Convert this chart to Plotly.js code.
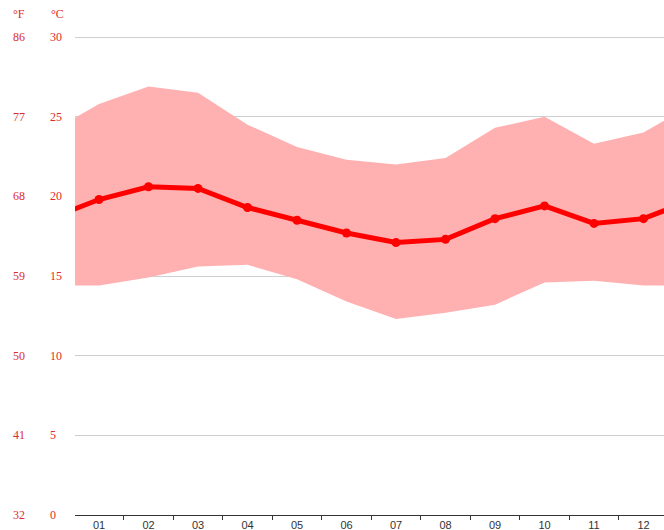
<!DOCTYPE html>
<html>
<head>
<meta charset="utf-8">
<script src="https://cdn.plot.ly/plotly-3.0.1.min.js"></script>
<style>html,body{margin:0;padding:0;background:#fff;}#chart{width:664px;height:530px;}</style>
</head>
<body>
<div id="chart"></div>
<script>
// Data (°C), months 01..12
const months = ["01","02","03","04","05","06","07","08","09","10","11","12"];
const meanTemp = [19.8, 20.6, 20.5, 19.3, 18.5, 17.7, 17.1, 17.3, 18.6, 19.4, 18.3, 18.6];
const maxTemp  = [25.8, 26.9, 26.5, 24.5, 23.1, 22.3, 22.0, 22.4, 24.3, 25.0, 23.3, 24.0];
const minTemp  = [14.4, 14.9, 15.6, 15.7, 14.8, 13.4, 12.3, 12.7, 13.2, 14.6, 14.7, 14.4];
const celsiusTicks = [0, 5, 10, 15, 20, 25, 30];
const fahrenheitTicks = [32, 41, 50, 59, 68, 77, 86];

// wrap: previous December before January, next January after December
const idx = months.map((m, i) => i + 1);
const xs = [0].concat(idx, [13]);
const wrap = a => [a[a.length - 1]].concat(a, [a[0]]);

const red = "#ff0000";
const labelRed = "#e02b2b";

const traces = [
  {x: xs, y: wrap(minTemp), type: "scatter", mode: "lines", line: {width: 0, color: "rgba(0,0,0,0)"}, hoverinfo: "skip", showlegend: false},
  {x: xs, y: wrap(maxTemp), type: "scatter", mode: "lines", fill: "tonexty", fillcolor: "rgb(255,176,176)", line: {width: 0, color: "rgba(0,0,0,0)"}, showlegend: false},
  {x: xs, y: wrap(meanTemp), type: "scatter", mode: "lines+markers", line: {width: 5, color: red}, marker: {size: 9, color: red}, showlegend: false},
  {x: [0.5], y: [0], xaxis: "x2", type: "scatter", mode: "markers", marker: {opacity: 0}, showlegend: false, hoverinfo: "skip"}
];

const xRange = [0.515, 12.414];
const yTop = 30.19;
const labelFont = {family: "Liberation Serif, DejaVu Serif, serif", size: 12, color: labelRed};
const annotations = [];
celsiusTicks.forEach((c, i) => {
  annotations.push({xref: "paper", yref: "y", x: (48 - 75) / 589, y: c, text: String(c), showarrow: false, xanchor: "left", yanchor: "middle", font: labelFont});
  annotations.push({xref: "paper", yref: "y", x: (11 - 75) / 589, y: c, text: String(fahrenheitTicks[i]), showarrow: false, xanchor: "left", yanchor: "middle", font: labelFont});
});
const headerY = (515 - 14) / 481;
annotations.push({xref: "paper", yref: "paper", x: (11 - 75) / 589, y: headerY, text: "°F", showarrow: false, xanchor: "left", yanchor: "middle", font: labelFont});
annotations.push({xref: "paper", yref: "paper", x: (49 - 75) / 589, y: headerY, text: "°C", showarrow: false, xanchor: "left", yanchor: "middle", font: labelFont});

const layout = {
  width: 664, height: 530,
  margin: {l: 75, r: 0, t: 34, b: 15, pad: 0},
  paper_bgcolor: "#fff", plot_bgcolor: "#fff",
  showlegend: false,
  xaxis: {range: xRange, tickvals: idx, ticktext: months, ticks: "", showgrid: false, zeroline: false,
          showline: true, linecolor: "#333", linewidth: 1,
          tickfont: {family: "Liberation Sans, Arial, sans-serif", size: 11, color: "#333"}, fixedrange: true},
  xaxis2: {range: xRange, overlaying: "x", matches: "x", tickvals: idx.map(v => v - 0.5).concat([12.5]), ticks: "outside", ticklen: 4, tickcolor: "#333", tickwidth: 1,
           showticklabels: false, showgrid: false, zeroline: false, showline: false},
  yaxis: {range: [0, yTop], tickvals: celsiusTicks.slice(1), showticklabels: false, ticks: "",
          showgrid: true, gridcolor: "#cfcfcf", gridwidth: 1, zeroline: false, showline: false, fixedrange: true},
  annotations: annotations
};

Plotly.newPlot("chart", traces, layout, {displayModeBar: false, staticPlot: true});
</script>
</body>
</html>
